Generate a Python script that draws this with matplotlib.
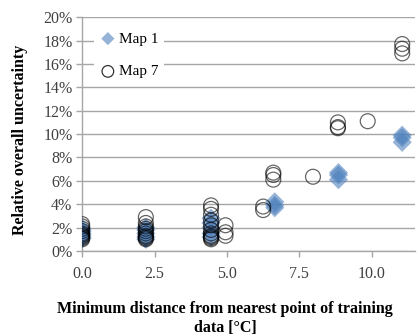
import matplotlib
matplotlib.use("Agg")
import matplotlib.pyplot as plt
from matplotlib.ticker import FuncFormatter

plt.rcParams['font.family'] = ['Liberation Serif', 'DejaVu Serif']

# Map 1 results (distance in °C, relative uncertainty in %)
map1_x = [0, 0, 0, 0, 0,
          2.2, 2.2, 2.2, 2.2, 2.2,
          4.45, 4.45, 4.45, 4.45, 4.45,
          6.65, 6.65, 6.65,
          8.85, 8.85, 8.85,
          11.05, 11.05, 11.05]
map1_y = [1.1, 1.3, 1.5, 1.7, 1.9,
          1.0, 1.2, 1.5, 1.8, 2.0,
          1.2, 1.5, 2.0, 2.4, 2.8,
          3.7, 3.9, 4.2,
          6.1, 6.5, 6.7,
          9.3, 9.7, 9.9]

# Map 7 results
map7_x = [0, 0, 0, 0, 0, 0, 0, 0, 0, 0,
          2.2, 2.2, 2.2, 2.2, 2.2, 2.2, 2.2, 2.2, 2.2, 2.2,
          4.45, 4.45, 4.45, 4.45, 4.45, 4.45, 4.45, 4.45, 4.45, 4.45, 4.45,
          4.95, 4.95, 4.95,
          6.25, 6.25,
          6.6, 6.6, 6.6,
          7.97,
          8.83, 8.83, 8.83,
          9.86,
          11.05, 11.05, 11.05]
map7_y = [1.0, 1.1, 1.2, 1.3, 1.4, 1.5, 1.7, 1.9, 2.1, 2.3,
          1.0, 1.1, 1.2, 1.3, 1.5, 1.7, 1.9, 2.1, 2.4, 2.9,
          1.0, 1.1, 1.2, 1.3, 1.5, 1.8, 2.2, 2.6, 3.1, 3.6, 3.9,
          1.3, 1.6, 2.2,
          3.5, 3.8,
          6.1, 6.5, 6.7,
          6.35,
          10.5, 10.6, 11.0,
          11.1,
          16.9, 17.3, 17.7]

x_ticks = [0, 2.5, 5.0, 7.5, 10.0]
y_ticks = [0, 2, 4, 6, 8, 10, 12, 14, 16, 18, 20]

fig = plt.figure(figsize=(4.19, 3.36), dpi=100)
ax = fig.add_axes([0.196, 0.253, 0.795, 0.696])

grid_c = '#A6A6A6'
ax.set_axisbelow(True)
ax.yaxis.grid(True, color=grid_c, linewidth=1.0)
for s in ('top', 'right'):
    ax.spines[s].set_visible(False)
for s in ('left', 'bottom'):
    ax.spines[s].set_color(grid_c)
    ax.spines[s].set_linewidth(1.0)

ax.scatter(map1_x, map1_y, marker='D', s=95, color='#4F81BD', alpha=0.6,
           edgecolors='none', label='Map 1', zorder=3)
ax.scatter(map7_x, map7_y, marker='o', s=115, facecolors='none',
           edgecolors='black', linewidths=0.9, alpha=0.6, label='Map 7', zorder=4)

ax.set_xlim(0, 11.5)
ax.set_ylim(0, 20)
ax.set_xticks(x_ticks)
ax.set_yticks(y_ticks)
ax.xaxis.set_major_formatter(FuncFormatter(lambda v, p: f"{v:.1f}"))
ax.yaxis.set_major_formatter(FuncFormatter(lambda v, p: f"{v:.0f}%"))
ax.tick_params(axis='both', colors=grid_c, labelcolor='#404040', labelsize=11.5,
               length=4, width=1.0)
ax.tick_params(axis='x', pad=7)
ax.tick_params(axis='y', pad=3)

fig.text(20 / 419, 1 - 140 / 336, 'Relative overall uncertainty', rotation=90,
         ha='center', va='center', fontsize=11.5, fontweight='bold')
fig.text(0.537, 0.053, 'Minimum distance from nearest point of training\ndata [°C]',
         ha='center', va='center', fontsize=11.5, fontweight='bold',
         linespacing=1.25)

leg = ax.legend(loc='upper left', bbox_to_anchor=(0.036, 0.963), frameon=True,
                fontsize=11, labelspacing=1.25, handletextpad=0.2,
                borderpad=0.4, borderaxespad=0.0, handlelength=1.0)
leg.get_frame().set_edgecolor('none')
leg.get_frame().set_facecolor('white')
leg.get_frame().set_alpha(1.0)
h1, h7 = leg.legend_handles
h1.set_sizes([45])
h1.set_alpha(1.0)
h1.set_facecolor('#95B3D7')
h7.set_sizes([70])
h7.set_alpha(0.8)

fig.savefig('out.png', dpi=100)
